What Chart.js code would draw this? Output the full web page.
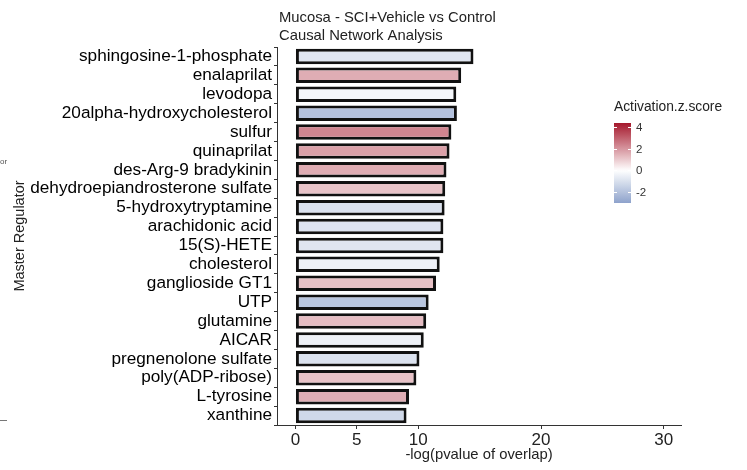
<!DOCTYPE html>
<html>
<head>
<meta charset="utf-8">
<script src="https://cdn.jsdelivr.net/npm/chart.js@4"></script>
<style>
  html, body { margin: 0; padding: 0; background: #fff; }
  #wrap { width: 747px; height: 470px; position: relative; }
</style>
</head>
<body>
<div id="wrap"><canvas id="mychart" width="747" height="470"></canvas></div>
<script>
// regulators, top to bottom
let regulators = ['sphingosine-1-phosphate', 'enalaprilat', 'levodopa', '20alpha-hydroxycholesterol',
  'sulfur', 'quinaprilat', 'des-Arg-9 bradykinin', 'dehydroepiandrosterone sulfate',
  '5-hydroxytryptamine', 'arachidonic acid', '15(S)-HETE', 'cholesterol', 'ganglioside GT1',
  'UTP', 'glutamine', 'AICAR', 'pregnenolone sulfate', 'poly(ADP-ribose)', 'L-tyrosine', 'xanthine'];
// -log(pvalue of overlap)
let overlap = [14.5, 13.5, 13.1, 13.15, 12.7, 12.55, 12.3, 12.2, 12.15, 12.05,
  12.05, 11.75, 11.45, 10.85, 10.65, 10.45, 10.1, 9.85, 9.25, 9.05];
// Activation z-score
let zscore = [-0.85, 1.55, -0.3, -2.0, 2.3, 1.8, 1.57, 1.14, -0.95, -0.9,
  -0.85, -0.45, 1.18, -1.85, 1.27, -0.45, -0.95, 1.15, 1.53, -1.27];
let xTicks = [0, 5, 10, 20, 30];
let legendTicks = [4, 2, 0, -2];
let zMax = 4.37, zMin = -3.0;

let high = [165, 24, 44], low = [90, 120, 180];
function zColor(z) {
  let t = Math.min(1, Math.abs(z) / zMax);
  let c = z >= 0 ? high : low;
  let r = Math.round(255 + (c[0] - 255) * t);
  let g = Math.round(255 + (c[1] - 255) * t);
  let b = Math.round(255 + (c[2] - 255) * t);
  return 'rgb(' + r + ',' + g + ',' + b + ')';
}

let fam = '"Liberation Sans", Arial, sans-serif';

let decor = {
  id: 'decor',
  afterDraw(chart) {
    let ctx = chart.ctx;
    let area = chart.chartArea;
    ctx.save();
    // title
    ctx.fillStyle = '#222';
    ctx.font = '14.8px ' + fam;
    ctx.textAlign = 'left';
    ctx.textBaseline = 'middle';
    ctx.fillText('Mucosa - SCI+Vehicle vs Control', area.left + 2, 18);
    ctx.fillText('Causal Network Analysis', area.left + 2, 36);

    // colour bar legend
    let lx = 614, lw = 17, top = 123, bottom = 203;
    ctx.font = '13.8px ' + fam;
    ctx.fillText('Activation.z.score', lx, 107);
    let yOf = z => top + (zMax - z) / (zMax - zMin) * (bottom - top);
    let grad = ctx.createLinearGradient(0, top, 0, bottom);
    for (let i = 0; i <= 40; i++) {
      let z = zMax - (zMax - zMin) * i / 40;
      grad.addColorStop(i / 40, zColor(z));
    }
    ctx.fillStyle = grad;
    ctx.fillRect(lx, top, lw, bottom - top);
    ctx.strokeStyle = '#fff';
    ctx.lineWidth = 1;
    ctx.font = '11.5px ' + fam;
    legendTicks.forEach(v => {
      let y = Math.round(yOf(v)) + 0.5;
      ctx.beginPath();
      ctx.moveTo(lx, y); ctx.lineTo(lx + 3, y);
      ctx.moveTo(lx + lw - 3, y); ctx.lineTo(lx + lw, y);
      ctx.stroke();
      ctx.fillStyle = '#333';
      ctx.fillText(String(v), lx + lw + 5, y);
    });

    // cropped leftovers at the left edge
    ctx.fillStyle = '#555';
    ctx.font = '8px ' + fam;
    ctx.fillText('or', 0, 162);
    ctx.strokeStyle = '#777';
    ctx.beginPath();
    ctx.moveTo(0, 420.5); ctx.lineTo(7, 420.5);
    ctx.stroke();
    ctx.restore();
  }
};

let mychart = document.getElementById('mychart').getContext('2d');
let obj = new Chart(mychart, {
  type: 'bar',
  data: {
    labels: regulators,
    datasets: [{
      label: '-log(pvalue of overlap)',
      data: overlap,
      backgroundColor: zscore.map(zColor),
      borderColor: '#111',
      borderWidth: 3,
      borderSkipped: false,
      barPercentage: 0.82,
      categoryPercentage: 1
    }]
  },
  options: {
    indexAxis: 'y',
    responsive: false,
    animation: false,
    layout: { padding: { top: 47, right: 66, left: 0, bottom: 0 } },
    plugins: { legend: { display: false }, tooltip: { enabled: false } },
    scales: {
      x: {
        min: -1.5,
        max: 31.4,
        afterBuildTicks: s => { s.ticks = xTicks.map(v => ({ value: v })); },
        afterFit: s => { s.height = 45; },
        grid: { display: true, drawOnChartArea: false, drawTicks: true, tickLength: 4, color: '#333' },
        border: { display: true, color: '#333', width: 1 },
        ticks: { color: '#222', padding: 1, maxRotation: 0, font: { size: 17, family: fam } },
        title: { display: true, text: '-log(pvalue of overlap)', color: '#222',
          padding: { top: 0, bottom: 6 }, font: { size: 14.8, family: fam } }
      },
      y: {
        afterFit: s => { s.width = 277; },
        grid: { display: true, drawOnChartArea: false, drawTicks: true, tickLength: 3, color: '#333' },
        border: { display: true, color: '#333', width: 1 },
        ticks: { color: '#000', padding: 2, autoSkip: false, font: { size: 17.2, family: fam } },
        title: { display: true, text: 'Master Regulator', color: '#222',
          padding: { top: 11, bottom: 0 }, font: { size: 14.5, family: fam } }
      }
    }
  },
  plugins: [decor]
});
</script>
</body>
</html>
